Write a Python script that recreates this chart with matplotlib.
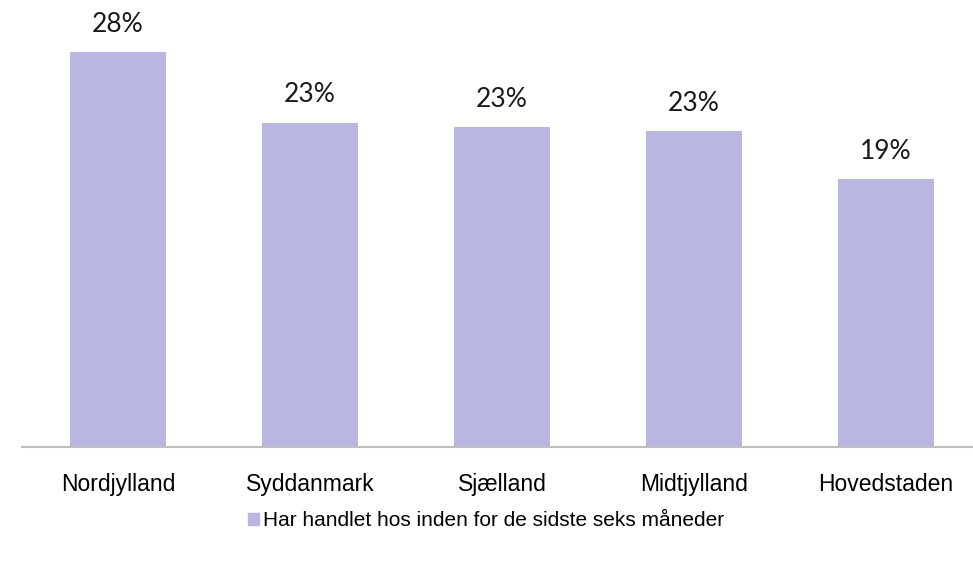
import matplotlib.pyplot as plt
from matplotlib.patches import Patch

regions = ["Nordjylland", "Syddanmark", "Sjælland", "Midtjylland", "Hovedstaden"]
values = [28.0, 23.0, 22.7, 22.4, 19.0]
labels = ["28%", "23%", "23%", "23%", "19%"]
legend_label = "Har handlet hos inden for de sidste seks måneder"

bar_color = "#B9B6E3"

fig = plt.figure(figsize=(9.73, 5.61), dpi=100)
ax = fig.add_axes([22 / 973, 1 - 447 / 561, 960 / 973, 447 / 561])

x = range(len(regions))
bars = ax.bar(x, values, width=0.5, color=bar_color)
ax.set_xlim(-0.5, 4.5)
ax.set_ylim(0, 447 / 14.1)

# value labels above each bar
for b, lab in zip(bars, labels):
    ax.annotate(lab, (b.get_x() + b.get_width() / 2, b.get_height()),
                xytext=(0, 11), textcoords="offset points",
                ha="center", va="bottom", fontsize=19, family="Lato",
                color="#1a1a1a")

for s in ["top", "right", "left"]:
    ax.spines[s].set_visible(False)
ax.spines["bottom"].set_color("#BFBFBF")
ax.spines["bottom"].set_linewidth(1.5)
ax.set_yticks([])
ax.set_xticks(list(x))
ax.set_xticklabels(regions, fontsize=16.5, family="Liberation Sans")
ax.tick_params(axis="x", length=0, pad=19)

handle = Patch(color=bar_color)
fig.legend([handle], [legend_label], loc="center", bbox_to_anchor=(486 / 973, 1 - 521 / 561),
           frameon=False, prop={"family": "Liberation Sans", "size": 15},
           handlelength=0.5, handleheight=0.5, handletextpad=0.2)

fig.savefig("out.png", dpi=100)
